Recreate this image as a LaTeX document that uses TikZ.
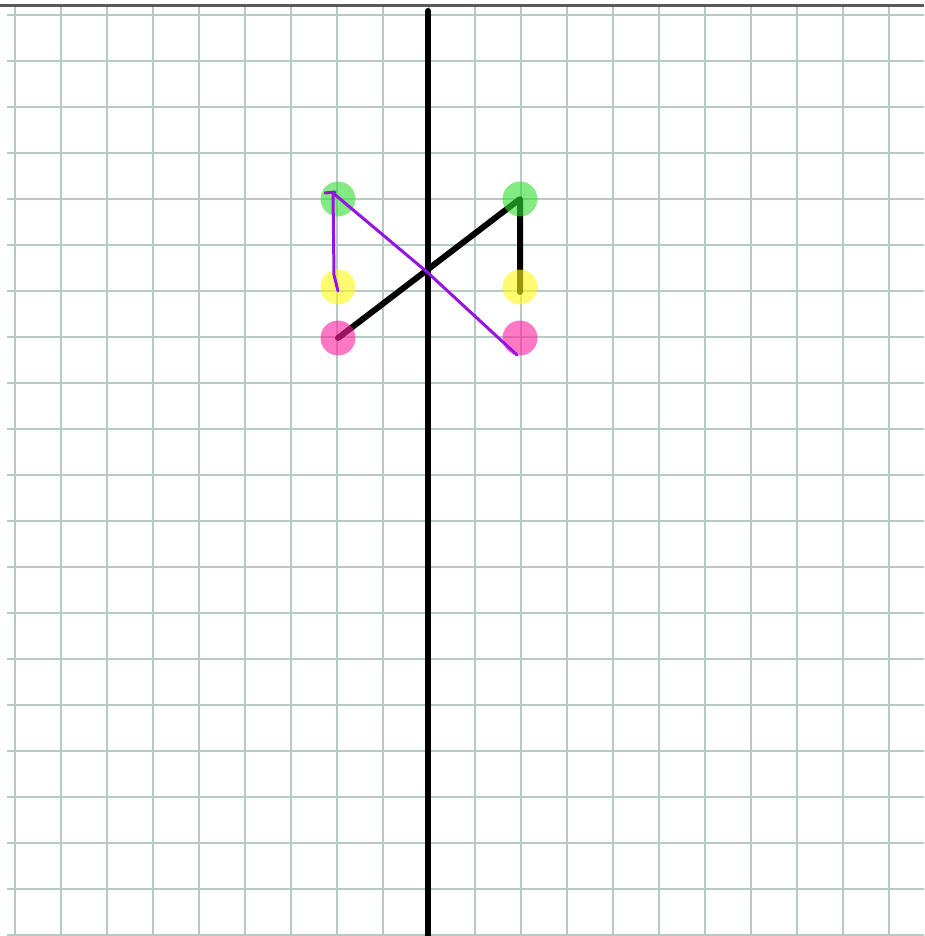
\documentclass[tikz,border=0pt]{standalone}
\usepackage{xcolor}
\usepackage{tikz}
\usetikzlibrary{calc}
\definecolor{gridgray}{RGB}{180,204,196}
\definecolor{topgray}{RGB}{90,90,90}
\definecolor{dotgreen}{RGB}{50,220,50}
\definecolor{dotyellow}{RGB}{255,250,20}
\definecolor{dotpink}{RGB}{255,30,160}
\definecolor{penpurple}{RGB}{150,20,225}

\begin{document}
\begin{tikzpicture}[x=1pt,y=-1pt,
  dot/.style={circle,inner sep=0pt,minimum size=35pt,fill opacity=0.6,draw=none},
  pen/.style={line width=3pt,penpurple,line cap=round,line join=round}]
  \useasboundingbox (0,0) rectangle (924,936);
  % paper grid
  \foreach \i in {0,...,19}
    \draw[gridgray,line width=2pt] (15+46*\i,7) -- (15+46*\i,936);
  \foreach \j in {0,...,20}
    \draw[gridgray,line width=2pt] (7,15+46*\j) -- (924,15+46*\j);
  \draw[topgray,line width=2.5pt] (0,5.5) -- (924,5.5);
  % mirror axis
  \coordinate (top) at (428,11);
  \coordinate (bottom) at (428,936);
  \draw[line width=6pt,line cap=round] (top) -- (bottom);
  % points
  \coordinate (gL) at (338,199);
  \coordinate (yL) at (338,287);
  \coordinate (pL) at (338,338);
  \coordinate (gR) at (520,199);
  \coordinate (yR) at (520,287);
  \coordinate (pR) at (520,338);
  \draw[line width=6pt,line cap=round,line join=round] (pL) -- (gR) -- ($(yR)+(0,5)$);
  \node[dot,fill=dotgreen] (ngL) at (gL) {};
  \node[dot,fill=dotyellow] (nyL) at (yL) {};
  \node[dot,fill=dotpink] (npL) at (pL) {};
  \node[dot,fill=dotgreen] (ngR) at (gR) {};
  \node[dot,fill=dotyellow] (nyR) at (yR) {};
  \node[dot,fill=dotpink] (npR) at (pR) {};
  % hand drawn reflection
  \coordinate (a) at (517,355);
  \coordinate (b) at (333,193);
  \coordinate (c) at (325,193);
  \coordinate (d) at (335,192);
  \coordinate (e) at (334,275);
  \coordinate (f) at (338,291);
  \draw[pen] (a) -- ($(b)!0.5!(a)+(2,-2)$) -- (b);
  \draw[pen] (c) -- (d);
  \draw[pen] (b) -- (e) -- (f);
\end{tikzpicture}
\end{document}
